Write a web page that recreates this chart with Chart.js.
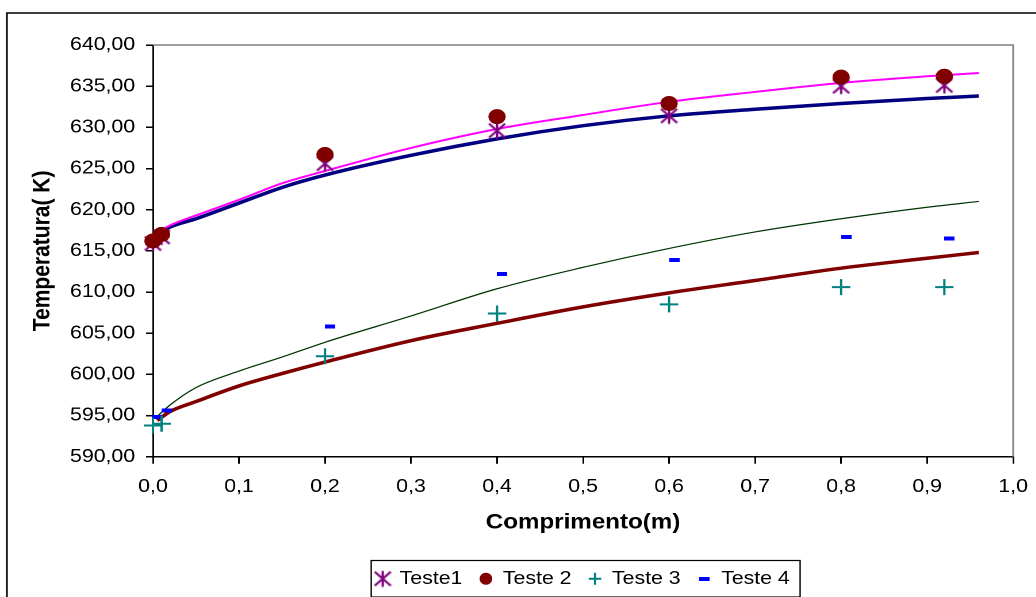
<!DOCTYPE html>
<html>
<head>
<meta charset="utf-8">
<script src="https://cdn.jsdelivr.net/npm/chart.js"></script>
<style>
  html, body { margin: 0; padding: 0; background: #fff; overflow: hidden; }
  #wrap { position: absolute; left: 0; top: 0; width: 930px; height: 620px;
          transform: scaleX(1.15); transform-origin: 0 0; }
</style>
</head>
<body>
<div id="wrap"><canvas id="chart" width="930" height="620"></canvas></div>
<script>
// measured points (comprimento in m, temperatura in K)
const testX = [0, 0.01, 0.2, 0.4, 0.6, 0.8, 0.92];
const teste1 = [615.9, 616.7, 625.6, 629.6, 631.4, 635.0, 635.1];
const teste2 = [616.2, 617.0, 626.7, 631.3, 632.9, 636.1, 636.2];
const teste3 = [593.8, 594.0, 602.2, 607.4, 608.5, 610.6, 610.6];
const teste4X = [0.005, 0.016, 0.206, 0.406, 0.606, 0.806, 0.926];
const teste4 = [594.8, 595.6, 605.8, 612.2, 613.9, 616.7, 616.5];

// simulated profiles
const modelX = [0.005, 0.02, 0.05, 0.1, 0.15, 0.2, 0.3, 0.4, 0.5, 0.6, 0.7, 0.8, 0.9, 0.96];
const modelPink = [617.2, 618.1, 619.3, 621.2, 623.2, 624.7, 627.5, 629.8, 631.5, 633.1, 634.3, 635.4, 636.2, 636.6];
const modelNavy = [617.0, 617.9, 618.9, 620.8, 622.7, 624.2, 626.6, 628.6, 630.2, 631.4, 632.2, 632.9, 633.5, 633.8];
const modelGreen = [594.9, 596.3, 598.4, 600.4, 602.1, 603.9, 607.1, 610.4, 613.0, 615.3, 617.3, 618.9, 620.3, 621.0];
const modelRed = [594.4, 595.5, 596.7, 598.6, 600.1, 601.5, 604.1, 606.2, 608.2, 609.9, 611.4, 612.9, 614.1, 614.8];

const xTicks = [0, 0.1, 0.2, 0.3, 0.4, 0.5, 0.6, 0.7, 0.8, 0.9, 1.0];
const yTicks = [590, 595, 600, 605, 610, 615, 620, 625, 630, 635, 640];

const pts = (xs, ys) => xs.map((x, i) => ({ x: x, y: ys[i] }));

// asterisk marker: X plus vertical bar
function asterisk() {
  const c = document.createElement('canvas');
  c.width = 16; c.height = 17;
  const g = c.getContext('2d');
  g.strokeStyle = '#800080'; g.lineWidth = 2;
  g.beginPath();
  g.moveTo(8, 0.5); g.lineTo(8, 16.5);
  g.moveTo(1, 1.5); g.lineTo(15, 15.5);
  g.moveTo(15, 1.5); g.lineTo(1, 15.5);
  g.stroke();
  return c;
}
// short thick dash marker
function dash() {
  const c = document.createElement('canvas');
  c.width = 9; c.height = 4;
  const g = c.getContext('2d');
  g.fillStyle = '#0000ff';
  g.fillRect(0, 0, 9, 4);
  return c;
}

const font = "'Liberation Sans', Arial, sans-serif";

const decor = {
  id: 'decor',
  beforeDraw(chart) {
    const ctx = chart.ctx;
    ctx.save();
    ctx.fillStyle = '#fff';
    ctx.fillRect(0, 0, chart.width, chart.height);
    ctx.strokeStyle = '#000';
    ctx.lineWidth = 1.5;
    ctx.strokeRect(6, 13, chart.width + 20, chart.height + 20);
    ctx.restore();
  },
  beforeDatasetsDraw(chart) {
    const { ctx, chartArea: a } = chart;
    ctx.save();
    ctx.strokeStyle = '#808080';
    ctx.lineWidth = 1.5;
    ctx.beginPath();
    ctx.moveTo(a.left, a.top);
    ctx.lineTo(a.right, a.top);
    ctx.lineTo(a.right, a.bottom);
    ctx.stroke();
    ctx.restore();
  },
  afterDraw(chart) {
    const hb = chart.legend.legendHitBoxes;
    if (!hb || !hb.length) return;
    const left = Math.min(...hb.map(b => b.left)) - 4.5;
    const right = Math.max(...hb.map(b => b.left + b.width)) + 9;
    const top = hb[0].top - 9;
    const bottom = hb[0].top + hb[0].height + 9;
    const ctx = chart.ctx;
    ctx.save();
    ctx.strokeStyle = '#000';
    ctx.lineWidth = 1.2;
    ctx.strokeRect(left, top, right - left, bottom - top);
    ctx.restore();
  }
};

const curve = { showLine: true, pointRadius: 0, cubicInterpolationMode: 'monotone' };

new Chart(document.getElementById('chart'), {
  type: 'scatter',
  data: {
    datasets: [
      { label: 'Teste1', data: pts(testX, teste1), pointStyle: asterisk(), pointRadius: 8,
        borderColor: '#800080', backgroundColor: '#800080', order: 1, clip: false },
      { label: 'Teste 2', data: pts(testX, teste2), pointStyle: 'circle', pointRadius: 7.5,
        borderWidth: 0, borderColor: '#800000', backgroundColor: '#800000', order: 0, clip: false },
      { label: 'Teste 3', data: pts(testX, teste3), pointStyle: 'cross', pointRadius: 8,
        borderWidth: 2, borderColor: '#008080', backgroundColor: '#008080', order: 2, clip: false },
      { label: 'Teste 4', data: pts(teste4X, teste4), pointStyle: dash(), pointRadius: 5,
        borderColor: '#0000ff', backgroundColor: '#0000ff', order: 3, clip: false },
      { ...curve, label: 'pink', data: pts(modelX, modelPink), borderColor: '#ff00ff', borderWidth: 2, order: 5 },
      { ...curve, label: 'navy', data: pts(modelX, modelNavy), borderColor: '#000080', borderWidth: 3.5, order: 6 },
      { ...curve, label: 'green', data: pts(modelX, modelGreen), borderColor: '#003300', borderWidth: 1.2, order: 7 },
      { ...curve, label: 'red', data: pts(modelX, modelRed), borderColor: '#800000', borderWidth: 3.5, order: 8 }
    ]
  },
  options: {
    responsive: false,
    devicePixelRatio: 2,
    animation: false,
    layout: { padding: { left: 10, top: 45, right: 930 - 881, bottom: 22 } },
    plugins: {
      tooltip: { enabled: false },
      legend: {
        position: 'bottom',
        fullSize: false,
        labels: {
          usePointStyle: true,
          pointStyleWidth: 11,
          boxHeight: 8.5,
          padding: 15,
          color: '#000',
          font: { family: font, size: 18.5 },
          filter: item => item.datasetIndex < 4,
          sort: (a, b) => a.datasetIndex - b.datasetIndex
        }
      }
    },
    scales: {
      x: {
        type: 'linear',
        min: 0, max: 1,
        afterBuildTicks: s => { s.ticks = xTicks.map(v => ({ value: v })); },
        afterFit: s => { s.height = 97.75; },
        ticks: {
          color: '#000', padding: 12,
          font: { family: font, size: 18.5 },
          callback: v => Number(v).toFixed(1).replace('.', ',')
        },
        grid: { drawOnChartArea: false, drawTicks: true, tickLength: 7, color: '#000', lineWidth: 1.5 },
        border: { color: '#000', width: 1.5 },
        title: {
          display: true, text: 'Comprimento(m)', color: '#000',
          font: { family: font, size: 21, weight: 'bold' },
          padding: { top: 0, bottom: 19 }
        }
      },
      y: {
        min: 590, max: 640,
        afterBuildTicks: s => { s.ticks = yTicks.map(v => ({ value: v })); },
        afterFit: s => { s.width = 123; },
        ticks: {
          color: '#000', padding: 9.5,
          font: { family: font, size: 18.5 },
          callback: v => Number(v).toFixed(2).replace('.', ',')
        },
        grid: { drawOnChartArea: false, drawTicks: true, tickLength: 6, color: '#000', lineWidth: 1.5 },
        border: { color: '#000', width: 1.5 },
        title: {
          display: true, text: 'Temperatura( K)', color: '#000',
          font: { family: font, size: 21, weight: 'bold' },
          padding: { top: 14.4, bottom: 0 }
        }
      }
    }
  },
  plugins: [decor]
});
</script>
</body>
</html>
